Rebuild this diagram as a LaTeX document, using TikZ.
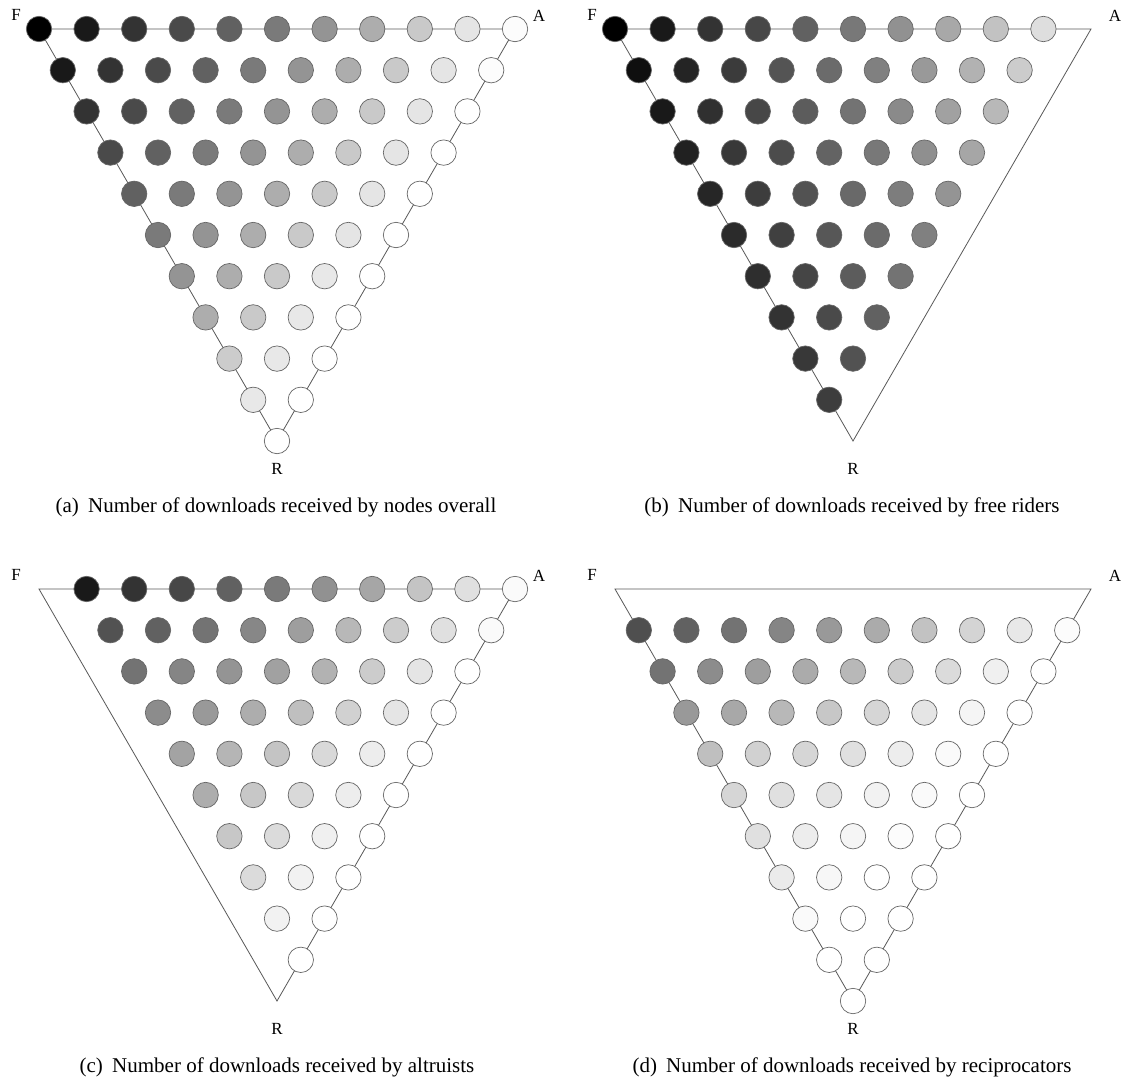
\documentclass[tikz,border=0pt]{standalone}
\usepackage{fontspec}
\setmainfont{Liberation Serif}
\newcommand{\dotrow}[6]{%
  \foreach \v [count=\i from 0] in {#6} {%
    \pgfmathtruncatemacro\kk{#5+\i}%
    \node[dot, fill=black!\v] (#1-#4-\kk) at ({#2+47.6*\kk+23.8*#4},{#3+41.2*#4}) {};
  }%
}
\newcommand{\triframe}[3]{%
  \coordinate (#1F) at (#2,#3);
  \coordinate (#1A) at ({#2+476},#3);
  \coordinate (#1R) at ({#2+238},{#3+412});
  \draw[edge] (#1F) -- (#1A) -- (#1R) -- cycle;
  \node[corner] (#1lF) at ({#2-23},{#3-14}) {F};
  \node[corner] (#1lA) at ({#2+500},{#3-13}) {A};
  \node[corner] (#1lR) at ({#2+238},{#3+440}) {R};
}
\begin{document}
\begin{tikzpicture}[x=1pt,y=-1pt,
  dot/.style={circle, draw=black!60, line width=0.7pt, minimum size=25.4pt, inner sep=0pt},
  edge/.style={draw=black!65, line width=0.8pt},
  corner/.style={inner sep=0pt, font=\fontsize{17}{20}\selectfont},
  capt/.style={inner sep=0pt, font=\fontsize{21}{24}\selectfont}]
\useasboundingbox[fill=white] (0,0) rectangle (1126,1079);

% ---------- (a) overall ----------
\triframe{a}{39}{29}
\dotrow{a}{39}{29}{0}{0}{100,90,80,71,62,52,42,32,21,10,1}
\dotrow{a}{39}{29}{1}{0}{90,80,71,62,52,42,32,21,10,1}
\dotrow{a}{39}{29}{2}{0}{80,71,62,52,42,32,21,10,0}
\dotrow{a}{39}{29}{3}{0}{71,62,52,42,32,21,10,0}
\dotrow{a}{39}{29}{4}{0}{62,52,42,32,21,10,0}
\dotrow{a}{39}{29}{5}{0}{52,42,32,21,10,0}
\dotrow{a}{39}{29}{6}{0}{42,32,21,9,0}
\dotrow{a}{39}{29}{7}{0}{32,21,9,0}
\dotrow{a}{39}{29}{8}{0}{20,9,0}
\dotrow{a}{39}{29}{9}{0}{9,0}
\dotrow{a}{39}{29}{10}{0}{0}
\node[capt] (capa) at (276,507) {(a)\hspace{0.44em}Number of downloads received by nodes overall};

% ---------- (b) free riders ----------
\triframe{b}{615}{29}
\dotrow{b}{615}{29}{0}{0}{100,90,80,72,62,53,43,34,24,13}
\dotrow{b}{615}{29}{1}{0}{94,86,77,67,58,50,40,30,20}
\dotrow{b}{615}{29}{2}{0}{90,81,72,64,55,46,37,28}
\dotrow{b}{615}{29}{3}{0}{87,78,70,61,53,44,35}
\dotrow{b}{615}{29}{4}{0}{85,76,68,59,51,42}
\dotrow{b}{615}{29}{5}{0}{83,75,66,58,50}
\dotrow{b}{615}{29}{6}{0}{82,73,64,55}
\dotrow{b}{615}{29}{7}{0}{80,71,62}
\dotrow{b}{615}{29}{8}{0}{78,68}
\dotrow{b}{615}{29}{9}{0}{76}
\node[capt] (capb) at (852,507) {(b)\hspace{0.44em}Number of downloads received by free riders};

% ---------- (c) altruists ----------
\triframe{c}{39}{589}
\dotrow{c}{39}{589}{0}{1}{90,80,72,62,52,43,35,23,12,2}
\dotrow{c}{39}{589}{1}{1}{68,62,55,47,38,28,20,12,2}
\dotrow{c}{39}{589}{2}{1}{55,48,42,37,30,20,10,0}
\dotrow{c}{39}{589}{3}{1}{45,40,32,25,18,10,0}
\dotrow{c}{39}{589}{4}{1}{36,29,23,15,7,0}
\dotrow{c}{39}{589}{5}{1}{32,22,15,7,0}
\dotrow{c}{39}{589}{6}{1}{22,14,6,0}
\dotrow{c}{39}{589}{7}{1}{14,5,0}
\dotrow{c}{39}{589}{8}{1}{5,0}
\dotrow{c}{39}{589}{9}{1}{0}
\node[capt] (capc) at (277,1067) {(c)\hspace{0.44em}Number of downloads received by altruists};

% ---------- (d) reciprocators ----------
\triframe{d}{615}{589}
\dotrow{d}{615}{589}{1}{0}{69,62,55,48,40,33,24,17,9,1}
\dotrow{d}{615}{589}{2}{0}{55,45,38,33,28,20,14,6,0}
\dotrow{d}{615}{589}{3}{0}{40,34,28,22,16,10,4,0}
\dotrow{d}{615}{589}{4}{0}{25,18,16,12,7,2,0}
\dotrow{d}{615}{589}{5}{0}{16,12,10,5,2,0}
\dotrow{d}{615}{589}{6}{0}{12,7,4,1,0}
\dotrow{d}{615}{589}{7}{0}{8,3,0,0}
\dotrow{d}{615}{589}{8}{0}{2,0,0}
\dotrow{d}{615}{589}{9}{0}{0,0}
\dotrow{d}{615}{589}{10}{0}{0}
\node[capt] (capd) at (852,1067) {(d)\hspace{0.44em}Number of downloads received by reciprocators};
\end{tikzpicture}
\end{document}
